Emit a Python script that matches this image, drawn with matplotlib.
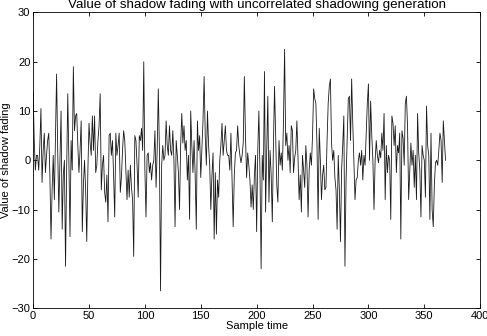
import numpy as np
import matplotlib
matplotlib.use("Agg")
import matplotlib.pyplot as plt

# shadow fading values (dB), one per sample
shadow_fading = [
    14, 4, -2, 1, 1, -2, 3, 10.5, -4.5, 2,
    5.5, -2.5, 1, 4, 5.5, -3, -16, -6, 1, -8,
    5, 17.5, 2, -10.5, 0, 10, -14, -3, 0, -21.5,
    -2, 13.5, 0, -15.5, 4, -2, 19, 6, 9, 9.5,
    3, -2.5, 2, 8, -14.5, -5, 0, -6, -16.5, -2,
    7.5, 3.5, 1, 9, 2, 9, -2.5, -1, 4, 7,
    13.5, -6, -1, 1, -6.5, -8.5, -3, -12.5, 5, 5.5,
    1, 4, -3, -11.5, 5.5, 1, 3, 5.5, -6.5, -3.5,
    2, 6, 4, -2, -8, -2, -7.5, -1, -5.5, -8,
    -19.5, 5, 4, -1, -7.5, 5, 4, 6.5, 2, 20,
    -2, -11.5, 1, 1.5, -2.5, -0.5, -4, -1, 0, 6,
    -5.5, 2, 14.5, 2, -26.5, -1, 3, 0, 1, 8,
    3, 1, 7, 2, 1, 6, 0, -13.5, 4, 1,
    -2.5, -10, 3, 9.5, 3.5, 7, 2, 4, -4, 1,
    -12, 10, 3, -2.5, 4, -3, -14, 8, 2, 5,
    -3.5, 2, 8, 17, 5, -1, 10, 3, -1, -10,
    -3, 1.5, -16, -2.5, -15, -4, -7.5, 0, 3, 7.5,
    1, 4, 7, 2, 1, 1, -2, 5.5, -4, -13.5,
    -3, 1.5, 2, 7, 3, 1, -0.5, 1, 3.5, 17,
    5, -3.5, 1.5, -1, -4, -9.5, -5, -10, -3, 1,
    -14.5, 2, 10, -3, -22, 1, -4, 18, -10.5, 2,
    13, -8.5, 2, -3, -12.5, 3, 15, 5, -5, -8.5,
    4, -1, 1.5, -2, 8, 22.5, 3, 5.5, 0, 3,
    -2.5, 7, 6, -2.5, 0.5, 2, 8, 0.5, -8, -3,
    -10.5, 1, -2, -5.5, 3, -1, -11.5, -2, 1.5, -1,
    5, 14.5, 12.5, 11.5, 3, -12, 6.5, 0, -8, -3,
    -1, -6, -5.5, 4, 11.5, 15, 16.5, 3.5, 0, 2,
    -3.5, -6, -14, 1, -6, -16.5, -2, 3, 9, -21.5,
    -4, 4, 12.5, 13, 4, 16.5, 7.5, 0, -8, -4,
    -3.5, 0, 1.5, -1, 2, -4, 1, -1, 5, 11.5,
    15.5, 0, 12, 5, 0, -10, 0, 4, 1, -0.5,
    2, 0.5, 5.5, 2, 9.5, -8, 3, -2.5, 1, 0,
    -12, 9, 7.5, 3, 7, -2.5, 3, 1.5, 5.5, -16,
    6, 4.5, -1, 11.5, 13, 7, -8, -2, 3.5, -1,
    2, -5.5, 1, -8, 9.5, 1.5, -2, -11.5, 3, 1,
    0, -7.5, 11, 3, 1, -12, 5.5, -10, -13.5, -5,
    -0.5, 0, -1, 2, 5.5, 4, -4.5, 8, 4, 0,
]
sample_time = np.arange(len(shadow_fading))

x_ticks = [0, 50, 100, 150, 200, 250, 300, 350, 400]
y_ticks = [-30, -20, -10, 0, 10, 20, 30]

plt.rcParams['font.family'] = ['Liberation Sans', 'DejaVu Sans']
plt.rcParams['font.size'] = 8

fig = plt.figure(figsize=(4.87, 3.36), dpi=100)
ax = fig.add_axes([0.068, 0.083, 0.918, 0.880])
ax.plot(sample_time, shadow_fading, color="#1a1a1a", linewidth=0.6)
ax.set_xlim(0, 400)
ax.set_ylim(-30, 30)
ax.set_xticks(x_ticks)
ax.set_yticks(y_ticks)
ax.tick_params(direction="in", top=True, right=True, length=3, width=0.6, pad=2)
for sp in ax.spines.values():
    sp.set_linewidth(0.6)
ax.set_xlabel("Sample time", labelpad=0)
ax.set_ylabel("Value of shadow fading", labelpad=0)
ax.set_title("Value of shadow fading with uncorrelated shadowing generation", pad=3)

fig.savefig("out.png", dpi=100)
